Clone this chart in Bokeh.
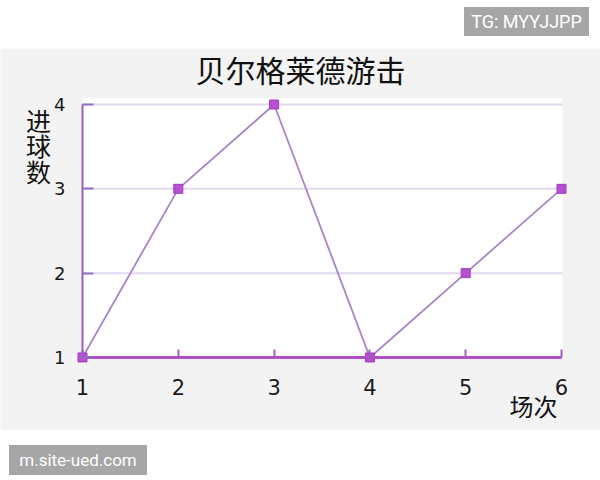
from bokeh.plotting import figure
from bokeh.models import Range1d, FixedTicker, Label, Div, ColumnDataSource
from bokeh.layouts import column
from bokeh.embed import file_html
from bokeh.resources import INLINE

# data
matches = [1, 2, 3, 4, 5, 6]
goals = [1, 3, 4, 1, 2, 3]
x_ticks = [1, 2, 3, 4, 5, 6]
y_ticks = [1, 2, 3, 4]
title_text = "贝尔格莱德游击"
y_label = "进\n球\n数"
x_label = "场次"

CJK = "Noto Sans CJK SC"
X0, X1 = min(x_ticks), max(x_ticks)
Y0, Y1 = min(y_ticks), max(y_ticks)
PAD_X, PAD_Y = 0.012, 0.075

p = figure(width=600, height=382, output_backend="svg", toolbar_location=None,
           x_range=Range1d(0.144, 6.407), y_range=Range1d(0.134, 4.664),
           min_border=0, background_fill_color="#f3f3f3", border_fill_color="#f3f3f3",
           outline_line_color=None)

# white plotting area
p.quad(left=[X0], right=[X1 + PAD_X], bottom=[Y0], top=[Y1 + PAD_Y],
       fill_color="white", line_color=None, level="image")

# horizontal grid lines
gy = y_ticks[1:]
p.segment(x0=[X0] * len(gy), x1=[X1 + PAD_X] * len(gy), y0=gy, y1=gy,
          line_color="#e2d8ee", line_width=2, level="underlay")
p.xgrid.visible = False
p.ygrid.visible = False

# axes
xa = p.xaxis[0]
xa.fixed_location = Y0
xa.bounds = (X0, X1)
xa.ticker = FixedTicker(ticks=x_ticks)
xa.axis_line_color = "#b050c8"
xa.axis_line_width = 3
xa.major_tick_in = 8
xa.major_tick_out = 0
xa.major_tick_line_color = "#a060c0"
xa.major_tick_line_width = 2
xa.minor_tick_line_color = None
xa.major_label_standoff = 22
xa.major_label_text_font = "DejaVu Sans"
xa.major_label_text_font_size = "21px"
xa.major_label_text_color = "#1a1a1a"

ya = p.yaxis[0]
ya.fixed_location = X0
ya.bounds = (Y0, Y1)
ya.ticker = FixedTicker(ticks=y_ticks)
ya.axis_line_color = "#9a60c8"
ya.axis_line_width = 2
ya.major_tick_in = 11
ya.major_tick_out = 0
ya.major_tick_line_color = "#9070c0"
ya.major_tick_line_width = 2
ya.minor_tick_line_color = None
ya.major_label_standoff = 17
ya.major_label_text_font = "DejaVu Sans"
ya.major_label_text_font_size = "18px"
ya.major_label_text_color = "#1a1a1a"

src = ColumnDataSource(dict(x=matches, y=goals))
p.line("x", "y", source=src, line_color="#a884c8", line_width=1.8)
p.scatter("x", "y", source=src, marker="square", size=9,
          fill_color="#b84ed2", line_color="#a03cc0", line_width=1)

p.add_layout(Label(x=3.276, y=4.415, text=title_text, text_font=CJK,
                   text_font_size="30px", text_align="center", text_baseline="middle",
                   text_color="#111111"))
p.add_layout(Label(x=0.541, y=3.514, text=y_label, text_font=CJK,
                   text_font_size="25px", text_align="center", text_baseline="middle",
                   text_line_height=0.71, text_color="#111111"))
p.add_layout(Label(x=5.708, y=0.431, text=x_label, text_font=CJK,
                   text_font_size="24px", text_align="center", text_baseline="middle",
                   text_color="#111111"))

top = Div(width=600, height=38, text=(
    '<div style="position:relative;width:600px;height:38px;">'
    '<div style="position:absolute;left:459px;top:2px;width:125px;height:29px;'
    'background:#a6a6a6;color:#fff;font-family:Roboto,sans-serif;font-size:18px;'
    'line-height:29px;text-align:center;">TG: MYYJJPP</div></div>'))
bottom = Div(width=600, height=42, text=(
    '<div style="position:relative;width:600px;height:42px;">'
    '<div style="position:absolute;left:4px;top:10px;width:138px;height:30px;'
    'background:#a6a6a6;color:#fff;font-family:Roboto,sans-serif;font-size:17px;'
    'line-height:30px;text-align:center;">m.site-ued.com</div></div>'))

layout = column(top, p, bottom, spacing=0)

open("out.html", "w").write(file_html(layout, INLINE))
